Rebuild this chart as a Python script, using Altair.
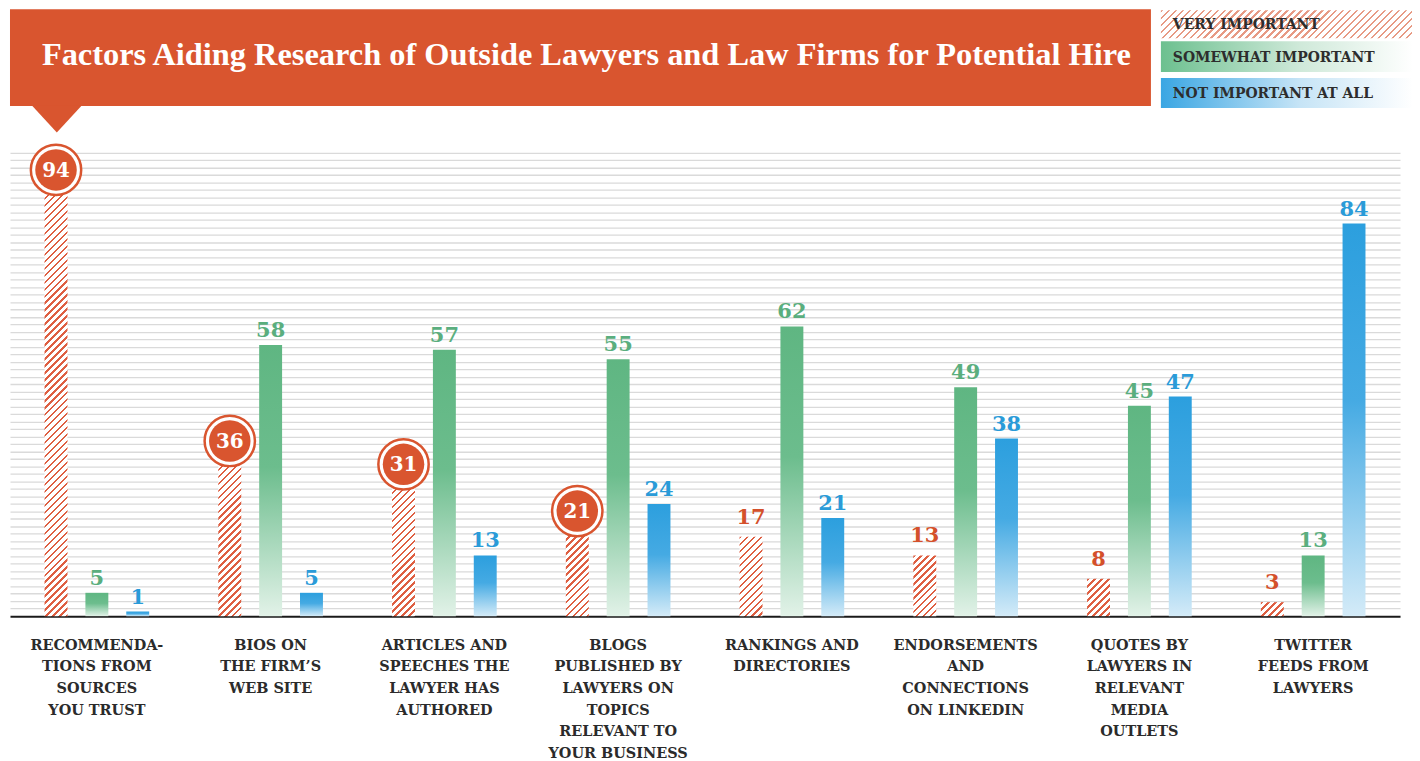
import altair as alt
import pandas as pd

categories = [
    "RECOMMENDA-|TIONS FROM|SOURCES|YOU TRUST",
    "BIOS ON|THE FIRM\u2019S|WEB SITE",
    "ARTICLES AND|SPEECHES THE|LAWYER HAS|AUTHORED",
    "BLOGS|PUBLISHED BY|LAWYERS ON|TOPICS|RELEVANT TO|YOUR BUSINESS",
    "RANKINGS AND|DIRECTORIES",
    "ENDORSEMENTS|AND|CONNECTIONS|ON LINKEDIN",
    "QUOTES BY|LAWYERS IN|RELEVANT|MEDIA|OUTLETS",
    "TWITTER|FEEDS FROM|LAWYERS",
]
series_names = ["VERY IMPORTANT", "SOMEWHAT IMPORTANT", "NOT IMPORTANT AT ALL"]
very_important = [94, 36, 31, 21, 17, 13, 8, 3]
somewhat_important = [5, 58, 57, 55, 62, 49, 45, 13]
not_important = [1, 5, 13, 24, 21, 38, 47, 84]
circled = [True, True, True, True, False, False, False, False]
title_text = "Factors Aiding Research of Outside Lawyers and Law Firms for Potential Hire"

rows = []
for i, c in enumerate(categories):
    for s, vals in zip(series_names, [very_important, somewhat_important, not_important]):
        rows.append({"cat": c, "series": s, "value": vals[i], "circled": circled[i]})
df = pd.DataFrame(rows)
dummy = pd.DataFrame({"d": [0]})

W, H = 1395, 469
BAR_W = 23
RED = "#D9552F"
RED_TXT = "#D4502B"
GREEN = "#5FB682"
GREEN_TXT = "#5AAE7E"
BLUE = "#2C9FDE"
BLUE_TXT = "#2A9BD8"
SERIF = "DejaVu Serif"


def hatch(w, h, color, bg="#ffffff", period=7.0, line=2.8):
    L = w + h
    t = L / (w * w + h * h)
    stops = []
    pos = 0.0
    while pos < L:
        a = pos / L
        b = min((pos + line) / L, 1.0)
        e = min((pos + period) / L, 1.0)
        stops += [(a, color), (b, color), (b, bg), (e, bg)]
        pos += period
    return alt.Gradient(
        gradient="linear", x1=0, y1=0, x2=w * t, y2=h * t,
        stops=[alt.GradientStop(offset=round(o, 5), color=c) for o, c in stops],
    )


def vfade(color, mid, pale):
    return alt.Gradient(
        gradient="linear", x1=0, y1=0, x2=0, y2=1,
        stops=[alt.GradientStop(offset=0, color=color),
               alt.GradientStop(offset=0.45, color=mid),
               alt.GradientStop(offset=1, color=pale)],
    )


def hfade(color, pale):
    return alt.Gradient(
        gradient="linear", x1=0, y1=0, x2=1, y2=0,
        stops=[alt.GradientStop(offset=0, color=color),
               alt.GradientStop(offset=0.55, color=pale),
               alt.GradientStop(offset=1, color="#ffffff")],
    )


grid_vals = [round(1.6 * k, 2) for k in range(1, 63)]

x_enc = alt.X(
    "cat:N", sort=categories,
    scale=alt.Scale(paddingInner=0, paddingOuter=0),
    axis=alt.Axis(
        title=None, ticks=False, labelAngle=0, domainColor="#1a1a1a", domainWidth=2,
        labelExpr="split(datum.label, '|')", labelFont=SERIF, labelFontWeight="bold",
        labelFontSize=14.5, labelColor="#2b2b2b", labelLineHeight=21.8, labelPadding=22,
        labelLimit=300, labelOverlap=False, labelBaseline="top",
    ),
)
xo_enc = alt.XOffset("series:N", sort=series_names,
                     scale=alt.Scale(paddingInner=0.439, paddingOuter=0.846))
y_enc = alt.Y(
    "value:Q", scale=alt.Scale(domain=[0, 100], nice=False),
    axis=alt.Axis(values=grid_vals, grid=True, labels=False, ticks=False, domain=False,
                  title=None, gridColor="#dadada", gridWidth=1.3),
)

base = alt.Chart(df).encode(x=x_enc, xOffset=xo_enc, y=y_enc)

layers = []
layers.append(
    base.transform_filter(alt.datum.series == series_names[1])
    .mark_bar(fill=vfade(GREEN, "#6cbd8d", "#e2f2e8"))
)
layers.append(
    base.transform_filter(alt.datum.series == series_names[2])
    .mark_bar(fill=vfade(BLUE, "#45aae3", "#d4ebf8"))
)
for c, v in zip(categories, very_important):
    layers.append(
        base.transform_filter((alt.datum.series == series_names[0]) & (alt.datum.cat == c))
        .mark_bar(fill=hatch(BAR_W, v * H / 100.0, "#de5f42", line=2.4))
    )

txt_props = dict(font=SERIF, fontWeight="bold", fontSize=21, baseline="bottom")
layers.append(
    base.transform_filter(alt.datum.series == series_names[1])
    .mark_text(color=GREEN_TXT, dy=-4, **txt_props).encode(text="value:Q")
)
layers.append(
    base.transform_filter(alt.datum.series == series_names[2])
    .mark_text(color=BLUE_TXT, dy=-4, **txt_props).encode(text="value:Q")
)
layers.append(
    base.transform_filter((alt.datum.series == series_names[0]) & (alt.datum.circled == False))
    .mark_text(color=RED_TXT, dy=-9, **txt_props).encode(text="value:Q")
)
circ = base.transform_filter((alt.datum.series == series_names[0]) & (alt.datum.circled == True))
layers.append(circ.mark_point(shape="circle", size=2552, filled=True, fill="#ffffff",
                              stroke=RED, strokeWidth=2.5, opacity=1, yOffset=-7))
layers.append(circ.mark_point(shape="circle", size=1735, filled=True, color=RED,
                              opacity=1, yOffset=-7))
layers.append(circ.mark_text(color="#ffffff", font=SERIF, fontWeight="bold", fontSize=20,
                             baseline="middle", dy=-6).encode(text="value:Q"))

# title banner
deco = alt.Chart(dummy)
layers.append(deco.mark_rect(color=RED).encode(
    x=alt.value(0), x2=alt.value(1145), y=alt.value(-140), y2=alt.value(-43)))
layers.append(deco.mark_point(shape="M-1,0L1,0L0,1.08Z", size=2500, filled=True,
                              color=RED, opacity=1).encode(x=alt.value(47), y=alt.value(-43.5)))
layers.append(deco.mark_text(text=title_text, font="Liberation Serif", fontWeight="bold",
                             fontSize=32.5, color="#ffffff", align="left",
                             baseline="alphabetic").encode(x=alt.value(32), y=alt.value(-84)))

# legend
leg_x0, leg_x1 = 1155, 1408
leg_rows = [(-139, -111), (-108, -77), (-71, -41)]
leg_fills = [hatch(leg_x1 - leg_x0, 28, "#e79a84", period=7.0, line=2.4),
             hfade("#6cc08f", "#cfe9d9"),
             hfade("#3aa6e3", "#c6e4f6")]
for (y0, y1), fill, name in zip(leg_rows, leg_fills, series_names):
    layers.append(deco.mark_rect(fill=fill).encode(
        x=alt.value(leg_x0), x2=alt.value(leg_x1), y=alt.value(y0), y2=alt.value(y1)))
    layers.append(deco.mark_text(text=name, font=SERIF, fontWeight="bold", fontSize=14,
                                 color="#2d2d2d", align="left", baseline="middle").encode(
        x=alt.value(leg_x0 + 12), y=alt.value((y0 + y1) / 2 + 1)))

chart = alt.layer(*layers).properties(
    width=W, height=H,
    padding={"left": 2, "top": 140, "right": 12, "bottom": 144},
    autosize=alt.AutoSizeParams(type="none"),
    background="#ffffff",
).configure_view(stroke=None)

chart.save("out.html", embed_options={"renderer": "svg", "actions": False})
